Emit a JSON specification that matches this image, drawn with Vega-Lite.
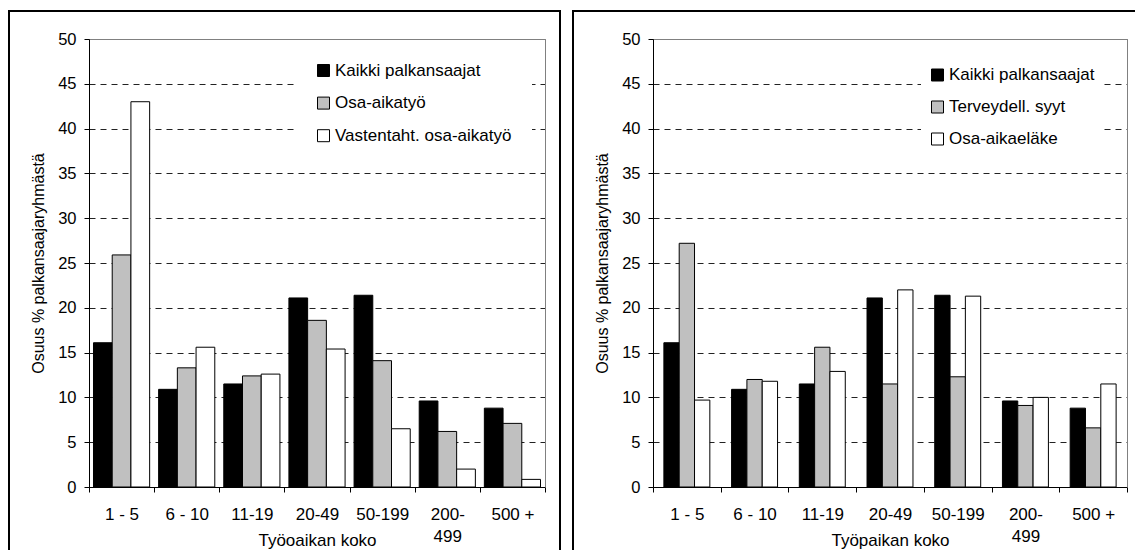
{
  "$schema": "https://vega.github.io/schema/vega-lite/v6.json",
  "background": "white",
  "padding": {"left": 8, "top": 10, "right": 0, "bottom": 0},
  "spacing": 11,
  "config": {
    "font": "Liberation Sans",
    "view": {"stroke": "black", "strokeWidth": 2},
    "axis": {"labelColor": "black", "titleColor": "black", "tickColor": "black", "domainColor": "black", "titleFontWeight": "normal"}
  },
  "resolve": {"scale": {"color": "independent", "xOffset": "independent", "x": "independent", "y": "independent"}},
  "datasets": {
    "vasen": [
      {"koko": "1 - 5", "sarja": "Kaikki palkansaajat", "arvo": 16.1},
      {"koko": "1 - 5", "sarja": "Osa-aikatyö", "arvo": 25.9},
      {"koko": "1 - 5", "sarja": "Vastentaht. osa-aikatyö", "arvo": 43.0},
      {"koko": "6 - 10", "sarja": "Kaikki palkansaajat", "arvo": 10.9},
      {"koko": "6 - 10", "sarja": "Osa-aikatyö", "arvo": 13.3},
      {"koko": "6 - 10", "sarja": "Vastentaht. osa-aikatyö", "arvo": 15.6},
      {"koko": "11-19", "sarja": "Kaikki palkansaajat", "arvo": 11.5},
      {"koko": "11-19", "sarja": "Osa-aikatyö", "arvo": 12.4},
      {"koko": "11-19", "sarja": "Vastentaht. osa-aikatyö", "arvo": 12.6},
      {"koko": "20-49", "sarja": "Kaikki palkansaajat", "arvo": 21.1},
      {"koko": "20-49", "sarja": "Osa-aikatyö", "arvo": 18.6},
      {"koko": "20-49", "sarja": "Vastentaht. osa-aikatyö", "arvo": 15.4},
      {"koko": "50-199", "sarja": "Kaikki palkansaajat", "arvo": 21.4},
      {"koko": "50-199", "sarja": "Osa-aikatyö", "arvo": 14.1},
      {"koko": "50-199", "sarja": "Vastentaht. osa-aikatyö", "arvo": 6.5},
      {"koko": "200-499", "sarja": "Kaikki palkansaajat", "arvo": 9.6},
      {"koko": "200-499", "sarja": "Osa-aikatyö", "arvo": 6.2},
      {"koko": "200-499", "sarja": "Vastentaht. osa-aikatyö", "arvo": 2.0},
      {"koko": "500 +", "sarja": "Kaikki palkansaajat", "arvo": 8.8},
      {"koko": "500 +", "sarja": "Osa-aikatyö", "arvo": 7.1},
      {"koko": "500 +", "sarja": "Vastentaht. osa-aikatyö", "arvo": 0.85}
    ],
    "oikea": [
      {"koko": "1 - 5", "sarja": "Kaikki palkansaajat", "arvo": 16.1},
      {"koko": "1 - 5", "sarja": "Terveydell. syyt", "arvo": 27.2},
      {"koko": "1 - 5", "sarja": "Osa-aikaeläke", "arvo": 9.7},
      {"koko": "6 - 10", "sarja": "Kaikki palkansaajat", "arvo": 10.9},
      {"koko": "6 - 10", "sarja": "Terveydell. syyt", "arvo": 12.0},
      {"koko": "6 - 10", "sarja": "Osa-aikaeläke", "arvo": 11.8},
      {"koko": "11-19", "sarja": "Kaikki palkansaajat", "arvo": 11.5},
      {"koko": "11-19", "sarja": "Terveydell. syyt", "arvo": 15.6},
      {"koko": "11-19", "sarja": "Osa-aikaeläke", "arvo": 12.9},
      {"koko": "20-49", "sarja": "Kaikki palkansaajat", "arvo": 21.1},
      {"koko": "20-49", "sarja": "Terveydell. syyt", "arvo": 11.5},
      {"koko": "20-49", "sarja": "Osa-aikaeläke", "arvo": 22.0},
      {"koko": "50-199", "sarja": "Kaikki palkansaajat", "arvo": 21.4},
      {"koko": "50-199", "sarja": "Terveydell. syyt", "arvo": 12.3},
      {"koko": "50-199", "sarja": "Osa-aikaeläke", "arvo": 21.3},
      {"koko": "200-499", "sarja": "Kaikki palkansaajat", "arvo": 9.6},
      {"koko": "200-499", "sarja": "Terveydell. syyt", "arvo": 9.1},
      {"koko": "200-499", "sarja": "Osa-aikaeläke", "arvo": 10.0},
      {"koko": "500 +", "sarja": "Kaikki palkansaajat", "arvo": 8.8},
      {"koko": "500 +", "sarja": "Terveydell. syyt", "arvo": 6.6},
      {"koko": "500 +", "sarja": "Osa-aikaeläke", "arvo": 11.5}
    ]
  },
  "hconcat": [
    {
      "width": 551,
      "height": 545,
      "data": {"name": "vasen"},
      "layer": [
        {
          "mark": {"type": "bar", "stroke": "black", "strokeWidth": 1},
          "encoding": {
            "x": {
              "field": "koko", "type": "nominal",
              "sort": ["1 - 5", "6 - 10", "11-19", "20-49", "50-199", "200-499", "500 +"],
              "scale": {"range": [80, 536], "paddingInner": 0, "paddingOuter": 0},
              "axis": {
                "orient": "bottom", "offset": -69, "labelAngle": 0, "tickBand": "extent", "tickSize": 5,
                "labelFontSize": 17, "labelPadding": 14, "labelLineHeight": 22,
                "labelExpr": "datum.value == '200-499' ? ['200-', '499'] : datum.label",
                "title": "Työoaikan koko", "titleFontSize": 17, "titleY": 53, "titleBaseline": "middle",
                "domainWidth": 1
              }
            },
            "xOffset": {
              "field": "sarja", "type": "nominal",
              "sort": ["Kaikki palkansaajat", "Osa-aikatyö", "Vastentaht. osa-aikatyö"],
              "scale": {"paddingInner": 0, "paddingOuter": 0.24}
            },
            "y": {
              "field": "arvo", "type": "quantitative",
              "scale": {"domain": [0, 50], "range": [476, 28], "nice": false},
              "axis": {
                "orient": "left", "offset": -80, "values": [0, 5, 10, 15, 20, 25, 30, 35, 40, 45, 50],
                "tickSize": 5, "labelFontSize": 16.5, "labelPadding": 8,
                "grid": true, "gridColor": "#222222", "gridDash": [6, 5], "gridWidth": 1,
                "title": "Osuus % palkansaajaryhmästä", "titleFontSize": 16, "titlePadding": 11
              }
            },
            "color": {
              "field": "sarja", "type": "nominal",
              "scale": {"domain": ["Kaikki palkansaajat", "Osa-aikatyö", "Vastentaht. osa-aikatyö"], "range": ["#000000", "#c0c0c0", "#ffffff"]},
              "legend": {
                "orient": "none", "legendX": 286, "legendY": 31, "title": null,
                "fillColor": "white", "padding": 20, "symbolType": "square", "symbolSize": 144,
                "symbolStrokeColor": "black", "symbolStrokeWidth": 1, "symbolOpacity": 1,
                "labelFontSize": 17, "labelOffset": 3, "rowPadding": 14.6, "labelLimit": 300, "labelColor": "black"
              }
            }
          }
        },
        {
          "mark": {"type": "bar", "opacity": 0},
          "encoding": {
            "x": {
              "field": "koko", "type": "nominal",
              "sort": ["1 - 5", "6 - 10", "11-19", "20-49", "50-199", "200-499", "500 +"],
              "axis": {"orient": "top", "offset": -28, "labels": false, "ticks": false, "title": null, "grid": false, "domainColor": "#808080", "domainWidth": 1}
            },
            "y": {
              "field": "arvo", "type": "quantitative", "stack": null,
              "axis": {"orient": "right", "offset": -15, "labels": false, "ticks": false, "title": null, "grid": false, "domainColor": "#808080", "domainWidth": 1}
            }
          }
        }
      ],
      "resolve": {"axis": {"x": "independent", "y": "independent"}}
    },
    {
      "width": 570,
      "height": 545,
      "data": {"name": "oikea"},
      "layer": [
        {
          "mark": {"type": "bar", "stroke": "black", "strokeWidth": 1},
          "encoding": {
            "x": {
              "field": "koko", "type": "nominal",
              "sort": ["1 - 5", "6 - 10", "11-19", "20-49", "50-199", "200-499", "500 +"],
              "scale": {"range": [80, 554], "paddingInner": 0, "paddingOuter": 0},
              "axis": {
                "orient": "bottom", "offset": -69, "labelAngle": 0, "tickBand": "extent", "tickSize": 5,
                "labelFontSize": 17, "labelPadding": 14, "labelLineHeight": 22,
                "labelExpr": "datum.value == '200-499' ? ['200-', '499'] : datum.label",
                "title": "Työpaikan koko", "titleFontSize": 17, "titleY": 53, "titleBaseline": "middle",
                "domainWidth": 1
              }
            },
            "xOffset": {
              "field": "sarja", "type": "nominal",
              "sort": ["Kaikki palkansaajat", "Terveydell. syyt", "Osa-aikaeläke"],
              "scale": {"paddingInner": 0, "paddingOuter": 0.71}
            },
            "y": {
              "field": "arvo", "type": "quantitative",
              "scale": {"domain": [0, 50], "range": [476, 28], "nice": false},
              "axis": {
                "orient": "left", "offset": -80, "values": [0, 5, 10, 15, 20, 25, 30, 35, 40, 45, 50],
                "tickSize": 5, "labelFontSize": 16.5, "labelPadding": 8,
                "grid": true, "gridColor": "#222222", "gridDash": [6, 5], "gridWidth": 1,
                "title": "Osuus % palkansaajaryhmästä", "titleFontSize": 16, "titlePadding": 11
              }
            },
            "color": {
              "field": "sarja", "type": "nominal",
              "scale": {"domain": ["Kaikki palkansaajat", "Terveydell. syyt", "Osa-aikaeläke"], "range": ["#000000", "#c0c0c0", "#ffffff"]},
              "legend": {
                "orient": "none", "legendX": 348, "legendY": 47.5, "title": null,
                "fillColor": "white", "padding": 8, "symbolType": "square", "symbolSize": 144,
                "symbolStrokeColor": "black", "symbolStrokeWidth": 1, "symbolOpacity": 1,
                "labelFontSize": 17, "labelOffset": 3, "rowPadding": 14, "labelLimit": 300, "labelColor": "black"
              }
            }
          }
        },
        {
          "mark": {"type": "bar", "opacity": 0},
          "encoding": {
            "x": {
              "field": "koko", "type": "nominal",
              "sort": ["1 - 5", "6 - 10", "11-19", "20-49", "50-199", "200-499", "500 +"],
              "axis": {"orient": "top", "offset": -28, "labels": false, "ticks": false, "title": null, "grid": false, "domainColor": "#808080", "domainWidth": 1}
            },
            "y": {
              "field": "arvo", "type": "quantitative", "stack": null,
              "axis": {"orient": "right", "offset": -16, "labels": false, "ticks": false, "title": null, "grid": false, "domainColor": "#808080", "domainWidth": 1}
            }
          }
        }
      ],
      "resolve": {"axis": {"x": "independent", "y": "independent"}}
    }
  ]
}
